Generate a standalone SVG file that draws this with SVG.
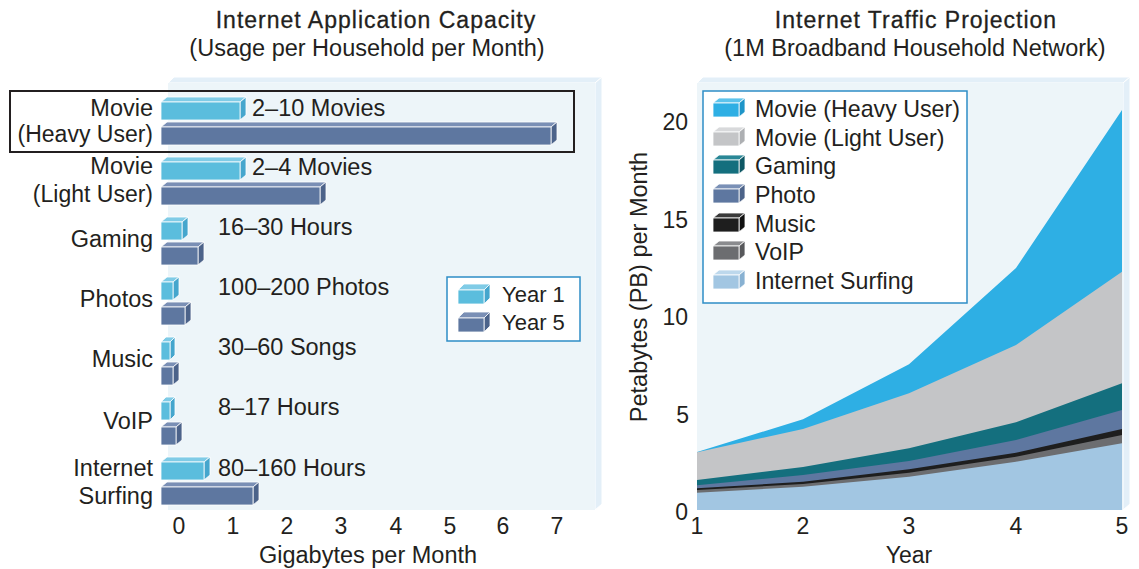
<svg xmlns="http://www.w3.org/2000/svg" width="1139" height="569" viewBox="0 0 1139 569">
  <style>
    text { font-family: "Liberation Sans", Arial, sans-serif; fill: #231f20; }
    .title { font-size: 23px; letter-spacing: 1px; stroke: #231f20; stroke-width: 0.3px; text-anchor: middle; }
    .sub { font-size: 23.5px; text-anchor: middle; }
    .lbl { font-size: 23.5px; }
    .rl { font-size: 23.5px; text-anchor: end; }
    .rl2 { font-size: 23px; text-anchor: end; }
    .key { font-size: 23.2px; }
    .tick { font-size: 23px; text-anchor: middle; }
    .panel-front { fill: #edf5f9; }
    .panel-side { fill: #e3eff8; stroke: #ffffff; stroke-width: 1; }
    .edge { stroke: #ffffff; stroke-width: 0.8; stroke-linejoin: round; }
    .y1f { fill: #5bbddd; } .y1t { fill: #7fcbe6; } .y1r { fill: #45a6cd; }
    .y5f { fill: #5e77a0; } .y5t { fill: #7a8fb5; } .y5r { fill: #4c638a; }
    .legend-box { fill: #ffffff; stroke: #2e8dc6; stroke-width: 1.5; }
  </style>

  <!-- ===== Left chart: Internet Application Capacity ===== -->
  <g id="left-title">
    <text class="title" x="376" y="28">Internet Application Capacity</text>
    <text class="sub" x="367" y="56">(Usage per Household per Month)</text>
  </g>

  <g id="left-panel">
    <polygon class="panel-side" points="168,83 174,77 602,77 595,83"/>
    <polygon class="panel-side" points="595,83 602,77 602,504 595,510"/>
    <rect class="panel-front" x="168" y="83" width="427" height="427"/>
  </g>

  <!-- bars: front face, top face, right face (depth 6 x 5) -->
  <g id="bars">
    <g id="bar-movie-heavy">
      <polygon class="y1t edge" points="161,102 167,97 246,97 240,102"/>
      <polygon class="y1r edge" points="240,102 246,97 246,115 240,120"/>
      <rect class="y1f edge" x="161" y="102" width="79" height="18"/>
      <polygon class="y5t edge" points="161,127 167,122 557,122 551,127"/>
      <polygon class="y5r edge" points="551,127 557,122 557,140 551,145"/>
      <rect class="y5f edge" x="161" y="127" width="390" height="18"/>
    </g>
    <g id="bar-movie-light">
      <polygon class="y1t edge" points="161,162 167,157 246,157 240,162"/>
      <polygon class="y1r edge" points="240,162 246,157 246,175 240,180"/>
      <rect class="y1f edge" x="161" y="162" width="79" height="18"/>
      <polygon class="y5t edge" points="161,187 167,182 326,182 320,187"/>
      <polygon class="y5r edge" points="320,187 326,182 326,200 320,205"/>
      <rect class="y5f edge" x="161" y="187" width="159" height="18"/>
    </g>
    <g id="bar-gaming">
      <polygon class="y1t edge" points="161,222 167,217 188,217 182,222"/>
      <polygon class="y1r edge" points="182,222 188,217 188,235 182,240"/>
      <rect class="y1f edge" x="161" y="222" width="21" height="18"/>
      <polygon class="y5t edge" points="161,247 167,242 204,242 198,247"/>
      <polygon class="y5r edge" points="198,247 204,242 204,260 198,265"/>
      <rect class="y5f edge" x="161" y="247" width="37" height="18"/>
    </g>
    <g id="bar-photos">
      <polygon class="y1t edge" points="161,282 167,277 179,277 173,282"/>
      <polygon class="y1r edge" points="173,282 179,277 179,295 173,300"/>
      <rect class="y1f edge" x="161" y="282" width="12" height="18"/>
      <polygon class="y5t edge" points="161,307 167,302 191,302 185,307"/>
      <polygon class="y5r edge" points="185,307 191,302 191,320 185,325"/>
      <rect class="y5f edge" x="161" y="307" width="24" height="18"/>
    </g>
    <g id="bar-music">
      <polygon class="y1t edge" points="161,342 166,337 175,337 170,342"/>
      <polygon class="y1r edge" points="170,342 175,337 175,355 170,360"/>
      <rect class="y1f edge" x="161" y="342" width="9" height="18"/>
      <polygon class="y5t edge" points="161,367 167,362 179,362 173,367"/>
      <polygon class="y5r edge" points="173,367 179,362 179,380 173,385"/>
      <rect class="y5f edge" x="161" y="367" width="12" height="18"/>
    </g>
    <g id="bar-voip">
      <polygon class="y1t edge" points="161,402 166,397 175,397 170,402"/>
      <polygon class="y1r edge" points="170,402 175,397 175,415 170,420"/>
      <rect class="y1f edge" x="161" y="402" width="9" height="18"/>
      <polygon class="y5t edge" points="161,427 167,422 182,422 176,427"/>
      <polygon class="y5r edge" points="176,427 182,422 182,440 176,445"/>
      <rect class="y5f edge" x="161" y="427" width="15" height="18"/>
    </g>
    <g id="bar-surfing">
      <polygon class="y1t edge" points="161,462 167,457 210,457 204,462"/>
      <polygon class="y1r edge" points="204,462 210,457 210,475 204,480"/>
      <rect class="y1f edge" x="161" y="462" width="43" height="18"/>
      <polygon class="y5t edge" points="161,487 167,482 259,482 253,487"/>
      <polygon class="y5r edge" points="253,487 259,482 259,500 253,505"/>
      <rect class="y5f edge" x="161" y="487" width="92" height="18"/>
    </g>
  </g>

  <g id="row-labels">
    <text class="rl" x="153" y="116">Movie</text>
    <text class="rl2" x="153" y="142">(Heavy User)</text>
    <text class="rl" x="153" y="174">Movie</text>
    <text class="rl2" x="153" y="202">(Light User)</text>
    <text class="rl" x="153" y="247">Gaming</text>
    <text class="rl" x="153" y="307">Photos</text>
    <text class="rl" x="153" y="367">Music</text>
    <text class="rl" x="153" y="429">VoIP</text>
    <text class="rl" x="153" y="476">Internet</text>
    <text class="rl" x="153" y="504">Surfing</text>
  </g>

  <g id="value-labels">
    <text class="lbl" x="252" y="116">2–10 Movies</text>
    <text class="lbl" x="252" y="175">2–4 Movies</text>
    <text class="lbl" x="218" y="235">16–30 Hours</text>
    <text class="lbl" x="218" y="295">100–200 Photos</text>
    <text class="lbl" x="218" y="355">30–60 Songs</text>
    <text class="lbl" x="218" y="415">8–17 Hours</text>
    <text class="lbl" x="218" y="476">80–160 Hours</text>
  </g>

  <rect id="heavy-user-highlight" x="10" y="91" width="564" height="61" fill="none" stroke="#231f20" stroke-width="2"/>

  <g id="left-legend">
    <rect class="legend-box" x="447" y="277" width="133" height="64"/>
    <polygon class="y1t edge" points="458,290 464,284 490,284 484,290"/>
    <polygon class="y1r edge" points="484,290 490,284 490,298 484,304"/>
    <rect class="y1f edge" x="458" y="290" width="26" height="14"/>
    <text class="lbl" x="502" y="302" style="font-size:22px">Year 1</text>
    <polygon class="y5t edge" points="458,318 464,312 490,312 484,318"/>
    <polygon class="y5r edge" points="484,318 490,312 490,326 484,332"/>
    <rect class="y5f edge" x="458" y="318" width="26" height="14"/>
    <text class="lbl" x="502" y="330" style="font-size:22px">Year 5</text>
  </g>

  <g id="left-axis">
    <text class="tick" x="179" y="534">0</text>
    <text class="tick" x="233" y="534">1</text>
    <text class="tick" x="287" y="534">2</text>
    <text class="tick" x="341" y="534">3</text>
    <text class="tick" x="396" y="534">4</text>
    <text class="tick" x="450" y="534">5</text>
    <text class="tick" x="503" y="534">6</text>
    <text class="tick" x="557" y="534">7</text>
    <text class="tick" x="368" y="563" style="font-size:23.5px">Gigabytes per Month</text>
  </g>

  <!-- ===== Right chart: Internet Traffic Projection ===== -->
  <g id="right-title">
    <text class="title" x="916" y="28">Internet Traffic Projection</text>
    <text class="sub" x="915" y="56">(1M Broadband Household Network)</text>
  </g>

  <g id="right-panel">
    <polygon class="panel-side" points="697,83 703,77 1130,77 1123,83"/>
    <polygon class="panel-side" points="1123,83 1130,77 1130,504 1123,510"/>
    <rect class="panel-front" x="697" y="83" width="426" height="427"/>
  </g>

  <!-- stacked areas, painted from the top series down -->
  <g id="areas">
    <polygon id="area-movie-heavy" fill="#2eafe4" points="697,452 803,419.3 909,364.3 1016,268 1122,110 1122,510 697,510"/>
    <polygon id="area-movie-light" fill="#c4c5c7" points="697,452.3 803,429 909,393.3 1016,345 1122,271.7 1122,510 697,510"/>
    <polygon id="area-gaming" fill="#146f7e" points="697,480 803,467 909,448.3 1016,422.3 1122,383.3 1122,510 697,510"/>
    <polygon id="area-photo" fill="#5e77a0" points="697,485.3 803,475 909,461 1016,440 1122,410 1122,510 697,510"/>
    <polygon id="area-music" fill="#1e1e1e" points="697,488.3 803,481.7 909,469.3 1016,452.7 1122,429 1122,510 697,510"/>
    <polygon id="area-voip" fill="#6c6d70" points="697,490 803,484 909,472.7 1016,456.7 1122,435 1122,510 697,510"/>
    <polygon id="area-surfing" fill="#a2c6e2" points="697,492.7 803,486.7 909,476.7 1016,461.7 1122,443.3 1122,510 697,510"/>
  </g>

  <g id="right-legend">
    <rect class="legend-box" x="703" y="91" width="264" height="212"/>
    <g id="key-movie-heavy">
      <polygon class="edge" fill="#5cc3ec" points="713,103 719,98 745,98 739,103"/>
      <polygon class="edge" fill="#1e95c8" points="739,103 745,98 745,112 739,117"/>
      <rect class="edge" fill="#2eafe4" x="713" y="103" width="26" height="14"/>
      <text class="key" x="755" y="117">Movie (Heavy User)</text>
    </g>
    <g id="key-movie-light">
      <polygon class="edge" fill="#d8d9db" points="713,132 719,127 745,127 739,132"/>
      <polygon class="edge" fill="#adafb2" points="739,132 745,127 745,141 739,146"/>
      <rect class="edge" fill="#c4c5c7" x="713" y="132" width="26" height="14"/>
      <text class="key" x="755" y="146">Movie (Light User)</text>
    </g>
    <g id="key-gaming">
      <polygon class="edge" fill="#2a8796" points="713,160 719,155 745,155 739,160"/>
      <polygon class="edge" fill="#0e5865" points="739,160 745,155 745,169 739,174"/>
      <rect class="edge" fill="#146f7e" x="713" y="160" width="26" height="14"/>
      <text class="key" x="755" y="174">Gaming</text>
    </g>
    <g id="key-photo">
      <polygon class="edge" fill="#7a90b6" points="713,189 719,184 745,184 739,189"/>
      <polygon class="edge" fill="#4c6389" points="739,189 745,184 745,198 739,203"/>
      <rect class="edge" fill="#5e77a0" x="713" y="189" width="26" height="14"/>
      <text class="key" x="755" y="203">Photo</text>
    </g>
    <g id="key-music">
      <polygon class="edge" fill="#3a3a3a" points="713,218 719,213 745,213 739,218"/>
      <polygon class="edge" fill="#111111" points="739,218 745,213 745,227 739,232"/>
      <rect class="edge" fill="#1e1e1e" x="713" y="218" width="26" height="14"/>
      <text class="key" x="755" y="232">Music</text>
    </g>
    <g id="key-voip">
      <polygon class="edge" fill="#8a8b8e" points="713,246 719,241 745,241 739,246"/>
      <polygon class="edge" fill="#57585b" points="739,246 745,241 745,255 739,260"/>
      <rect class="edge" fill="#6c6d70" x="713" y="246" width="26" height="14"/>
      <text class="key" x="755" y="260">VoIP</text>
    </g>
    <g id="key-surfing">
      <polygon class="edge" fill="#bdd8ec" points="713,275 719,270 745,270 739,275"/>
      <polygon class="edge" fill="#88b1d2" points="739,275 745,270 745,284 739,289"/>
      <rect class="edge" fill="#a2c6e2" x="713" y="275" width="26" height="14"/>
      <text class="key" x="755" y="289">Internet Surfing</text>
    </g>
  </g>

  <g id="right-axes">
    <text class="rl2" x="688" y="130">20</text>
    <text class="rl2" x="688" y="228">15</text>
    <text class="rl2" x="688" y="325">10</text>
    <text class="rl2" x="689" y="423">5</text>
    <text class="rl2" x="688" y="520">0</text>
    <text class="tick" x="697" y="534">1</text>
    <text class="tick" x="803" y="534">2</text>
    <text class="tick" x="909" y="534">3</text>
    <text class="tick" x="1016" y="534">4</text>
    <text class="tick" x="1122" y="534">5</text>
    <text class="tick" x="909" y="563">Year</text>
    <text class="tick" transform="translate(647,287) rotate(-90)" x="0" y="0" style="font-size:23.5px">Petabytes (PB) per Month</text>
  </g>
</svg>
